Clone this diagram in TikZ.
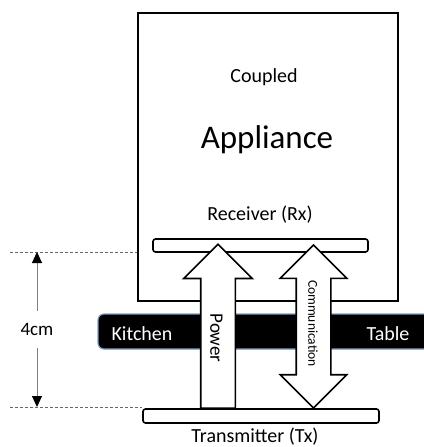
\documentclass[tikz,border=0pt]{standalone}
\usepackage{fontspec}
\setmainfont{Carlito}
\usepackage{tikz}
\usetikzlibrary{shapes.arrows, arrows.meta, positioning}
\definecolor{bandEdge}{HTML}{7E9CC0}
\definecolor{dimGray}{HTML}{808080}

\begin{document}
\begin{tikzpicture}[
    x=1pt, y=-1pt,
    box/.style={rectangle, draw=black, line width=1.6pt, minimum width=260pt,
                minimum height=288pt, inner sep=0pt},
    plate/.style={rectangle, draw=black, fill=white, line width=1.6pt,
                  rounded corners=2.5pt, inner sep=0pt},
    band/.style={rectangle, fill=black, draw=bandEdge, line width=1.2pt,
                 rounded corners=6pt, minimum width=345pt, minimum height=35pt, inner sep=0pt},
    uparrow/.style={single arrow, draw=black, fill=white, line width=1.6pt,
                    shape border rotate=90, inner xsep=16.5pt, inner ysep=0pt,
                    single arrow head extend=17pt, minimum height=164pt, anchor=tail},
    bothways/.style={double arrow, draw=black, fill=white, line width=1.6pt,
                     shape border rotate=90, inner xsep=16.5pt, inner ysep=0pt,
                     double arrow head extend=16pt, minimum height=163pt},
    txt/.style={font=\fontsize{20}{24}\selectfont, inner sep=0pt, anchor=base},
    guide/.style={densely dashed, dimGray!80!black, line width=0.8pt},
    dim/.style={{Triangle[length=11pt,width=10pt,color=black]}-{Triangle[length=11pt,width=10pt,color=black]},
                dimGray, line width=1pt}
]
    \useasboundingbox (0,0) rectangle (423,447);

    \node[box] (app) at (268,157) {};
    \node[plate, minimum width=215pt, minimum height=13pt] (rx) at (260.5,245.5) {};
    \node[plate, minimum width=236pt, minimum height=14pt] (tx) at (261,416) {};
    \node[band] (table) at (270.5,331.5) {};

    \node[uparrow]  (pow) at (218,409) {};
    \node[bothways] (com) at (313.5,326.5) {};

    \node[txt] (cpl) at (264,82) {Coupled};
    \node[txt, font=\fontsize{33}{40}\selectfont] (appl) at (267,148) {Appliance};
    \node[txt] (rxl) at (260,220.5) {Receiver (Rx)};
    \node[txt] (txl) at (255,442) {Transmitter (Tx)};
    \node[txt, text=white] (kit) at (142,340) {Kitchen};
    \node[txt, text=white] (tab) at (388,340) {Table};
    \node[font=\fontsize{19}{23}\selectfont, inner sep=0pt, rotate=-90] (powl) at (216.5,338) {Power};
    \node[font=\fontsize{13.5}{16}\selectfont, inner sep=0pt, rotate=-90] (coml) at (313,323.5) {Communication};

    \coordinate (g1) at (10,252);
    \coordinate (g2) at (10,407);
    \coordinate (d1) at (37,252);
    \coordinate (d2) at (37,407);
    \draw[guide] (g1) -- (g1 -| app.west);
    \draw[guide] (g2) -- (g2 -| tx.west);
    \draw[dim] (d1) -- node[fill=white, text=black, font=\fontsize{19}{23}\selectfont,
                           inner xsep=2pt, inner ysep=12pt] (dl) {4cm} (d2);
\end{tikzpicture}
\end{document}
